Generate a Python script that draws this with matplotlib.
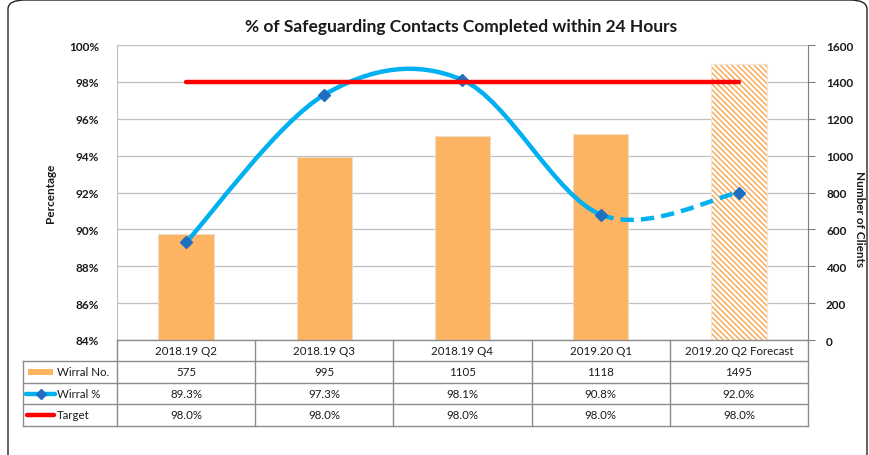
import numpy as np
import matplotlib
matplotlib.use("Agg")
import matplotlib.pyplot as plt
from matplotlib.path import Path
from matplotlib.patches import PathPatch, FancyBboxPatch, Rectangle
from matplotlib.lines import Line2D
from matplotlib.transforms import blended_transform_factory
import matplotlib.ticker as mticker

categories = ["2018.19 Q2", "2018.19 Q3", "2018.19 Q4", "2019.20 Q1", "2019.20 Q2 Forecast"]
wirral_no = [575, 995, 1105, 1118, 1495]
wirral_pct = [89.3, 97.3, 98.1, 90.8, 92.0]
target = [98.0, 98.0, 98.0, 98.0, 98.0]
title = "% of Safeguarding Contacts Completed within 24 Hours"

FONT = ["Lato", "DejaVu Sans"]
plt.rcParams["font.family"] = FONT
plt.rcParams["hatch.linewidth"] = 1.0
TXT = "#1a1a1a"
ORANGE = "#FDB462"
ORANGE_H = "#F9A64A"
CYAN = "#00B0F0"
DBLUE = "#1F6FC0"
RED = "#FF0000"
GRID = "#BFBFBF"

W, H = 870, 456
fig = plt.figure(figsize=(W / 100, H / 100), dpi=100)
fig.patch.set_facecolor("white")

# rounded frame
frame = FancyBboxPatch((8 / W, -10 / H), (859 / W), (465 / H),
                       boxstyle="round,pad=0,rounding_size=0.02",
                       transform=fig.transFigure, fill=False,
                       edgecolor="#222222", linewidth=1.0)
fig.patches.append(frame)

L, R, T, B = 117, 808, 46, 341
ax = fig.add_axes([L / W, 1 - B / H, (R - L) / W, (B - T) / H])
ax2 = ax.twinx()
x = np.arange(len(categories))

# bars (right axis scale)
ax.set_xlim(-0.5, len(categories) - 0.5)
ax.set_ylim(0, 1600)
for i, v in enumerate(wirral_no):
    if i < len(wirral_no) - 1:
        ax.bar(i, v, width=0.4, color=ORANGE, edgecolor="#EEDCCB", linewidth=0.8, zorder=2)
    else:
        ax.bar(i, v, width=0.4, color="white", edgecolor=ORANGE_H, hatch="\\\\\\\\\\\\",
               linewidth=0, zorder=2)
        ax.bar(i, v, width=0.4, color="none", edgecolor="#F3E6DA", linewidth=0.8, zorder=2)

ax.set_xticks([])
ax.grid(axis="y", color=GRID, linewidth=0.9, zorder=0)
ax.set_axisbelow(True)
for s in ["top", "bottom"]:
    ax.spines[s].set_visible(False)
ax.spines["left"].set_color(GRID)
ax.spines["right"].set_color("#7f7f7f")
ax.yaxis.tick_right()
ax.set_yticks(np.arange(0, 1601, 200))
ax.tick_params(axis="y", which="both", length=5, width=0.8, color="#7f7f7f", pad=8,
               labelsize=8.5, labelcolor=TXT, left=False, labelleft=False,
               right=True, labelright=True)
for lab in ax.get_yticklabels():
    lab.set_fontweight("bold")

# percentage axis
ax2.set_ylim(84, 100)
ax2.set_yticks(np.arange(84, 100.1, 2))
ax2.yaxis.set_major_formatter(mticker.FuncFormatter(lambda v, p: f"{v:.0f}%"))
ax2.tick_params(axis="y", length=0, pad=13, labelsize=8.5, labelcolor=TXT,
                left=False, labelleft=True, right=False, labelright=False)
for lab in ax2.get_yticklabels():
    lab.set_fontweight("bold")
for s in ax2.spines.values():
    s.set_visible(False)

# axis titles
fig.text(51 / W, 1 - 193 / H, "Percentage", rotation=90, ha="center", va="center",
         fontsize=8.5, fontweight="bold", color=TXT)
fig.text(860 / W, 1 - 219 / H, "Number of Clients", rotation=-90, ha="center",
         va="center", fontsize=8.5, fontweight="bold", color=TXT)

# smooth (Catmull-Rom style Bezier) line through data points
px = x.astype(float)
py = np.array(wirral_pct, dtype=float)
n = len(px)


def seg(i):
    p0 = (px[max(i - 1, 0)], py[max(i - 1, 0)])
    p1 = (px[i], py[i])
    p2 = (px[i + 1], py[i + 1])
    p3 = (px[min(i + 2, n - 1)], py[min(i + 2, n - 1)])
    c1 = (p1[0] + (p2[0] - p0[0]) / 6, p1[1] + (p2[1] - p0[1]) / 6)
    c2 = (p2[0] - (p3[0] - p1[0]) / 6, p2[1] - (p3[1] - p1[1]) / 6)
    return [c1, c2, p2]


verts = [(px[0], py[0])]
codes = [Path.MOVETO]
for i in range(n - 2):
    verts += seg(i)
    codes += [Path.CURVE4] * 3
ax2.add_patch(PathPatch(Path(verts, codes), fill=False, edgecolor=CYAN, linewidth=3.2,
                        capstyle="round", zorder=3))
verts2 = [(px[n - 2], py[n - 2])] + seg(n - 2)
ax2.add_patch(PathPatch(Path(verts2, [Path.MOVETO] + [Path.CURVE4] * 3), fill=False,
                        edgecolor=CYAN, linewidth=3.2, linestyle=(0, (3, 1.6)), zorder=3))
ax2.plot(px, py, linestyle="none", marker="D", markersize=6.5, color=DBLUE,
         markeredgecolor=DBLUE, zorder=4)

ax2.plot(x, target, color=RED, linewidth=3.2, solid_capstyle="round", zorder=5)

# title
fig.text(461 / W, 1 - 27 / H, title, ha="center", va="center", fontsize=12.5,
         fontweight="bold", color=TXT)

# data table
tr = blended_transform_factory(ax.transData, fig.transFigure)
trf = fig.transFigure


def fy(ypx):
    return 1 - ypx / H


row_y = [341, 362, 384, 405, 427]
tcol = "#8c8c8c"
for k, yy in enumerate(row_y):
    x0 = 117 / W if k == 0 else 23 / W
    fig.add_artist(Line2D([x0, R / W], [fy(yy), fy(yy)], transform=trf, color=tcol,
                          linewidth=1.0))
for b in np.arange(-0.5, n, 1.0):
    fig.add_artist(Line2D([b, b], [fy(341), fy(427)], transform=tr, color=tcol, linewidth=1.0))
fig.add_artist(Line2D([23 / W, 23 / W], [fy(362), fy(427)], transform=trf, color=tcol,
                      linewidth=1.0))

fs = 8.3
for i, c in enumerate(categories):
    fig.text(i, fy((341 + 362) / 2), c, transform=tr, ha="center", va="center",
             fontsize=fs, color=TXT)
    fig.text(i, fy((362 + 384) / 2), f"{wirral_no[i]}", transform=tr, ha="center",
             va="center", fontsize=fs, color=TXT)
    fig.text(i, fy((384 + 405) / 2), f"{wirral_pct[i]:.1f}%", transform=tr, ha="center",
             va="center", fontsize=fs, color=TXT)
    fig.text(i, fy((405 + 427) / 2), f"{target[i]:.1f}%", transform=tr, ha="center",
             va="center", fontsize=fs, color=TXT)

yc1 = fy((362 + 384) / 2)
fig.add_artist(Rectangle((28 / W, yc1 - 3 / H), 25 / W, 6 / H, transform=trf,
                         facecolor=ORANGE, edgecolor="none"))
fig.text(57 / W, yc1, "Wirral No.", transform=trf, ha="left", va="center", fontsize=fs,
         color=TXT)
yc2 = fy((384 + 405) / 2)
fig.add_artist(Line2D([26 / W, 55 / W], [yc2, yc2], transform=trf, color=CYAN,
                      linewidth=3.2, solid_capstyle="round"))
fig.add_artist(Line2D([40.5 / W], [yc2], transform=trf, marker="D", markersize=5,
                      color=DBLUE, linestyle="none"))
fig.text(57 / W, yc2, "Wirral %", transform=trf, ha="left", va="center", fontsize=fs,
         color=TXT)
yc3 = fy((405 + 427) / 2)
fig.add_artist(Line2D([27 / W, 54 / W], [yc3, yc3], transform=trf, color=RED,
                      linewidth=3.2, solid_capstyle="round"))
fig.text(57 / W, yc3, "Target", transform=trf, ha="left", va="center", fontsize=fs,
         color=TXT)

fig.savefig("out.png", dpi=100, facecolor="white")
